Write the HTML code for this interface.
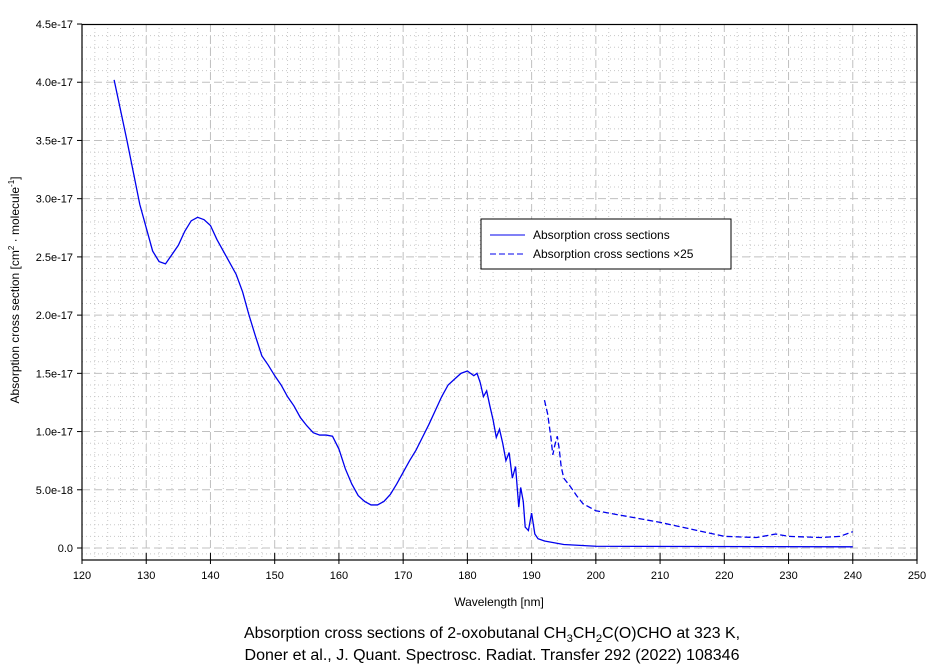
<!DOCTYPE html>
<html><head><meta charset="utf-8"><style>body{margin:0;background:#fff}svg{display:block;font-family:"Liberation Sans",sans-serif}</style></head>
<body>
<svg width="942" height="668" viewBox="0 0 942 668">
<g stroke="#c8c8c8" stroke-dasharray="1,3" stroke-width="1" id="minor"></g>
<g stroke="#c0c0c0" stroke-dasharray="8,4" stroke-width="1" id="major"></g>
<rect x="82" y="24.5" width="835" height="535.5" fill="none" stroke="#000" stroke-width="1.2"/>
<g id="ticks" stroke="#000"></g>
<g id="labels" font-size="11" fill="#000"></g>
<g transform="translate(82,548) scale(6.4231,-116.44) translate(-120,0)">
<path id="solid" fill="none" stroke="#0000ee" stroke-width="1.3" vector-effect="non-scaling-stroke"/>
<path id="dash" fill="none" stroke="#0000ee" stroke-width="1.3" stroke-dasharray="6,3" vector-effect="non-scaling-stroke"/>
</g>
<rect x="481" y="219" width="250" height="50" fill="#fff" stroke="#000"/>
<line x1="490" y1="235" x2="525" y2="235" stroke="#0000ee"/>
<line x1="490" y1="254" x2="525" y2="254" stroke="#0000ee" stroke-dasharray="6,3"/>
<text x="533" y="239" font-size="12">Absorption cross sections</text>
<text x="533" y="258" font-size="12">Absorption cross sections ×25</text>
<text x="499" y="606" font-size="12" text-anchor="middle">Wavelength [nm]</text>
<text transform="translate(19,290) rotate(-90)" font-size="12" text-anchor="middle">Absorption cross section [cm<tspan font-size="8" dy="-5">2</tspan><tspan dy="5"> · molecule</tspan><tspan font-size="8" dy="-5">-1</tspan><tspan dy="5">]</tspan></text>
<text x="492" y="638" font-size="15.5" text-anchor="middle" textLength="496" lengthAdjust="spacingAndGlyphs">Absorption cross sections of 2-oxobutanal CH<tspan font-size="11" dy="4">3</tspan><tspan dy="-4">CH</tspan><tspan font-size="11" dy="4">2</tspan><tspan dy="-4">C(O)CHO at 323 K,</tspan></text>
<text x="492" y="660" font-size="15.5" text-anchor="middle" textLength="495" lengthAdjust="spacingAndGlyphs">Doner et al., J. Quant. Spectrosc. Radiat. Transfer 292 (2022) 108346</text>
</svg>
<script>
const X=w=>82+(w-120)*6.4231, Y=v=>548-v*116.44;
const ns="http://www.w3.org/2000/svg";
function el(p,t,a,txt){const e=document.createElementNS(ns,t);for(const k in a)e.setAttribute(k,a[k]);if(txt)e.textContent=txt;document.getElementById(p).appendChild(e);}
for(let w=122;w<250;w+=2){if(w%10)el("minor","line",{x1:X(w),x2:X(w),y1:24,y2:560});}
for(let i=1;i<45;i++){if(i%5)el("minor","line",{x1:82,x2:917,y1:Y(i/10),y2:Y(i/10)});}
el("minor","line",{x1:82,x2:917,y1:Y(-0.05),y2:Y(-0.05)});
for(let w=130;w<250;w+=10)el("major","line",{x1:X(w),x2:X(w),y1:24,y2:560});
for(let i=0;i<9;i++)el("major","line",{x1:82,x2:917,y1:Y(i/2),y2:Y(i/2)});
for(let w=120;w<=250;w+=10){el("ticks","line",{x1:X(w),x2:X(w),y1:553,y2:564});el("labels","text",{x:X(w),y:579,"text-anchor":"middle"},String(w));}
const yl=["0.0","5.0e-18","1.0e-17","1.5e-17","2.0e-17","2.5e-17","3.0e-17","3.5e-17","4.0e-17","4.5e-17"];
for(let i=0;i<10;i++){el("ticks","line",{x1:77,x2:82,y1:Y(i/2),y2:Y(i/2)});el("labels","text",{x:73,y:Y(i/2)+4,"text-anchor":"end"},yl[i]);}
const s=[125,4.02,127,3.5,129,2.95,131,2.55,132,2.46,133,2.44,134,2.52,135,2.6,136,2.72,137,2.81,138,2.84,139,2.82,140,2.77,141,2.65,142,2.55,143,2.45,144,2.35,145,2.2,146,2.0,147,1.82,148,1.65,149,1.57,150,1.48,151,1.40,152,1.3,153,1.22,154,1.12,155,1.05,156,0.99,157,0.97,158,0.97,159,0.96,160,0.85,161,0.68,162,0.55,163,0.45,164,0.40,165,0.37,166,0.37,167,0.40,168,0.46,169,0.55,170,0.65,171,0.75,172,0.84,173,0.95,174,1.06,175,1.18,176,1.3,177,1.4,178,1.45,179,1.5,180,1.52,180.5,1.5,181,1.48,181.5,1.5,182,1.42,182.5,1.3,183,1.35,183.5,1.22,184,1.1,184.5,0.95,185,1.02,185.5,0.9,186,0.75,186.5,0.82,187,0.6,187.5,0.7,188,0.35,188.3,0.52,188.7,0.4,189,0.18,189.5,0.15,190,0.3,190.5,0.12,191,0.08,192,0.06,195,0.03,200,0.015,240,0.01];
const d=[192,1.27,192.5,1.15,193,0.95,193.3,0.80,193.6,0.88,194,0.96,194.3,0.85,194.6,0.7,195,0.6,196,0.53,197,0.45,198,0.38,200,0.32,205,0.27,210,0.22,215,0.16,220,0.1,225,0.09,228,0.12,230,0.1,235,0.09,238,0.1,240,0.14];
const P=a=>{let r="";for(let i=0;i<a.length;i+=2)r+=(i?"L":"M")+a[i]+","+a[i+1];return r;};
document.getElementById("solid").setAttribute("d",P(s));
document.getElementById("dash").setAttribute("d",P(d));
</script>
</body></html>
